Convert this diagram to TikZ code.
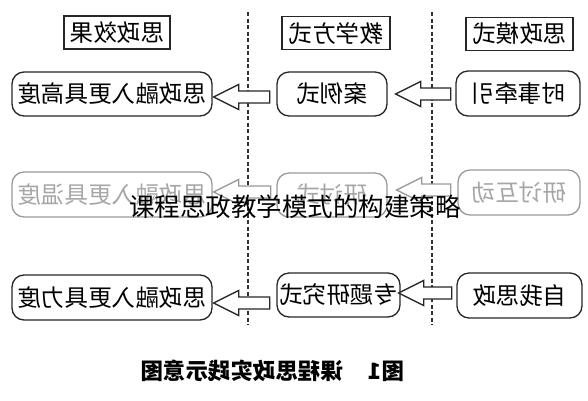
\documentclass[tikz,border=0pt]{standalone}
\usepackage{fontspec}
\usepackage{graphicx}
\newfontfamily\cjk{Noto Sans CJK SC}
\usetikzlibrary{calc}
\tikzset{
 hdr/.style={draw=black!85, line width=1.4pt, inner sep=0pt, minimum height=33pt, font=\cjk\fontsize{23.5}{23.5}\selectfont},
 rbox/.style={draw=black!85, line width=1.3pt, rounded corners=12pt, inner sep=0pt, minimum height=44pt, font=\cjk\fontsize{23.5}{23.5}\selectfont},
 faded/.style={draw=black!40, text=black!35},
 barrow/.style={draw=black!85, line width=1.3pt, fill=white, line join=miter},
 fadedarrow/.style={draw=black!40},
 divider/.style={draw=black!80, line width=1.1pt, dash pattern=on 4pt off 2.5pt},
}
% #1 style, #2 tip point, #3 total length
\newcommand\blockarrow[3][]{%
 \draw[barrow,#1] (#2) -- ++(25,-12.5) -- ++(0,6.5) -- ++(#3-25,0) -- ++(0,12) -- ++(25-#3,0) -- ++(0,6.5) -- cycle;}
\begin{document}
\begin{tikzpicture}[x=1pt,y=-1pt]
\useasboundingbox (0,0) rectangle (588,400);
% dividers
\coordinate (d1t) at (248,12); \coordinate (d1b) at (248,325);
\coordinate (d2t) at (432,12); \coordinate (d2b) at (432,325);
\draw[divider] (d1t) -- (d1b);
\draw[divider] (d2t) -- (d2b);
% headers
\node[hdr, minimum width=106pt] (h1) at (117,32.5) {\reflectbox{思政效果}};
\node[hdr, minimum width=108pt] (h2) at (336,33) {\reflectbox{教学方式}};
\node[hdr, minimum width=107pt] (h3) at (519.5,34) {\reflectbox{思政模式}};
% row 1
\node[rbox, minimum width=200pt] (l1) at (112,94) {\reflectbox{思政融入更具高度}};
\node[rbox, minimum width=110pt] (m1) at (332,94) {\reflectbox{案例式}};
\node[rbox, minimum width=124pt, minimum height=45pt] (r1) at (518,93.5) {\reflectbox{时事牵引}};
% row 2 (faded)
\node[rbox, faded, minimum width=200pt, minimum height=45pt] (l2) at (112,194.5) {\reflectbox{思政融入更具温度}};
\node[rbox, faded, minimum width=110pt] (m2) at (332,195) {\reflectbox{研讨式}};
\node[rbox, faded, minimum width=122pt, minimum height=45pt] (r2) at (519,192.5) {\reflectbox{研讨互动}};
% row 3
\node[rbox, minimum width=200pt, minimum height=45pt] (l3) at (112,297.5) {\reflectbox{思政融入更具力度}};
\node[rbox, minimum width=123pt] (m3) at (338.5,295) {\reflectbox{专题研究式}};
\node[rbox, minimum width=125pt, minimum height=45pt] (r3) at (519.5,295.5) {\reflectbox{自我思政}};
% block arrows (tip at target box)
\blockarrow{$(l1.east)+(1,3)$}{56}
\blockarrow{$(m1.east)+(8,0)$}{55}
\blockarrow[fadedarrow]{$(l2.east)+(1,-2.5)$}{57}
\blockarrow[fadedarrow]{$(m2.east)+(9,-5)$}{54}
\blockarrow{$(l3.east)+(1,5.5)$}{56}
\blockarrow{$(m3.east)+(-2,-2)$}{53}
% caption
\node[font=\cjk\bfseries\fontsize{22.5}{22.5}\selectfont] (cap) at (272.5,371) {\reflectbox{图1\hspace{1.1em}课程思政实践示意图}};
% overlay title
\node[font=\cjk\fontsize{25.5}{25.5}\selectfont, text=black] (title) at (295,207) {课程思政教学模式的构建策略};
\end{tikzpicture}
\end{document}
